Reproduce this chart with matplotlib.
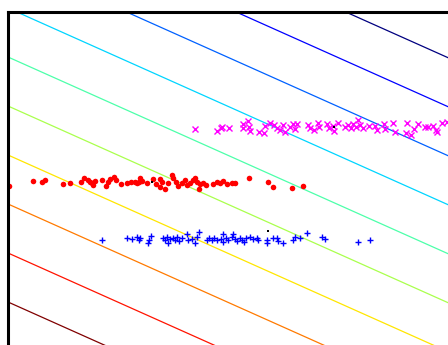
import numpy as np
import matplotlib
matplotlib.use("Agg")
import matplotlib.pyplot as plt

# class 1 (magenta x)
mag_x = [18.7, 20.9, 21.3, 21.4, 22.1, 23.5, 23.5, 24.0, 24.1, 24.2, 25.1, 25.6, 25.7, 26.2, 26.6,
         26.9, 27.2, 27.5, 27.7, 28.2, 28.5, 28.7, 28.9, 30.0, 30.2, 30.6, 31.0, 31.1, 31.9, 32.1,
         32.5, 32.6, 33.0, 33.7, 34.0, 34.3, 34.5, 34.8, 35.0, 35.2, 35.5, 36.1, 36.7, 36.9, 37.6,
         37.7, 38.5, 38.7, 39.9, 39.8, 40.3, 40.6, 41.0, 41.7, 42.0, 42.5, 42.8, 42.9, 43.4, 43.9]
mag_y = [21.6, 21.4, 21.7, 21.8, 21.7, 22.1, 21.7, 22.4, 21.8, 21.4, 21.3, 21.2, 21.9, 22.2, 22.0,
         21.7, 21.5, 22.0, 21.3, 21.8, 22.1, 21.6, 22.1, 22.0, 21.7, 21.5, 22.2, 21.8, 22.1, 21.7,
         21.9, 21.4, 22.2, 21.8, 22.0, 21.7, 22.1, 21.8, 22.5, 22.0, 21.7, 21.9, 21.9, 21.5, 22.1,
         21.6, 22.2, 21.3, 22.2, 21.2, 21.0, 21.6, 22.1, 21.8, 21.8, 21.9, 21.5, 21.3, 22.2, 22.3]

# class 2 (red dots)
red_x = [0.1, 2.5, 3.4, 3.7, 5.5, 6.2, 7.3, 7.6, 8.0, 8.2, 8.4, 8.5, 8.7, 9.4, 9.8, 10.0, 10.2,
         10.6, 10.8, 11.3, 11.9, 12.3, 12.7, 12.9, 13.1, 13.2, 13.4, 13.9, 14.5, 14.8, 15.2, 15.4,
         15.2, 15.7, 16.0, 16.4, 16.5, 16.8, 17.0, 17.4, 17.7, 17.9, 18.2, 18.5, 18.7, 18.9, 19.1,
         19.2, 19.5, 19.8, 20.5, 20.9, 21.2, 21.5, 21.9, 22.4, 22.7, 24.1, 26.0, 26.5, 28.4, 29.5]
red_y = [15.9, 16.4, 16.3, 16.5, 16.1, 16.2, 16.3, 16.7, 16.5, 16.3, 16.2, 16.0, 16.4, 16.5, 15.9,
         16.3, 16.6, 16.8, 16.5, 16.1, 16.2, 16.3, 16.3, 16.2, 16.3, 16.7, 16.4, 16.2, 16.6, 16.1,
         16.6, 16.3, 15.8, 15.6, 16.2, 17.0, 16.7, 16.3, 15.9, 16.2, 16.5, 16.0, 16.2, 16.5, 16.7,
         16.3, 15.6, 16.1, 16.2, 16.0, 16.1, 16.3, 16.2, 16.4, 16.1, 16.2, 16.2, 16.7, 16.3, 15.8,
         15.7, 15.9]

# class 3 (blue +)
blue_x = [9.4, 11.9, 12.4, 12.9, 13.1, 13.2, 14.1, 14.3, 14.0, 15.5, 15.7, 15.9, 16.0, 16.2, 16.5,
          16.7, 16.9, 17.1, 17.4, 17.9, 18.0, 18.4, 18.7, 18.9, 19.1, 19.9, 20.1, 20.4, 20.6, 20.9,
          21.3, 21.5, 21.5, 21.8, 22.0, 22.4, 22.5, 22.7, 22.9, 23.2, 23.4, 23.6, 23.8, 24.2, 24.5,
          24.9, 25.0, 25.9, 25.9, 26.5, 26.9, 27.0, 27.5, 28.5, 28.7, 29.2, 29.9, 31.4, 31.7, 35.0,
          36.2]
blue_y = [10.5, 10.7, 10.6, 10.8, 10.5, 10.7, 10.5, 10.9, 10.2, 10.7, 10.5, 10.8, 10.2, 10.6, 10.7,
          10.5, 10.8, 10.4, 10.7, 11.1, 10.5, 10.6, 10.2, 10.8, 11.3, 10.5, 10.7, 10.5, 10.7, 10.5,
          10.6, 11.1, 10.3, 10.7, 10.5, 10.8, 11.1, 10.6, 10.4, 10.7, 10.5, 10.3, 10.7, 10.8, 10.6,
          10.7, 10.5, 10.5, 10.2, 10.7, 10.7, 10.4, 10.2, 10.5, 10.8, 10.7, 11.2, 10.8, 10.6, 10.3,
          10.5]

# black marks inside each cloud
mark_x = [32.6, 14.4, 26.0]
mark_y = [21.8, 16.3, 11.4]

# contour of the linear score y + slope*x
slope = 0.447
levels = [4.3, 9.2, 14.1, 19.0, 23.9, 28.8, 33.7, 38.6, 43.5, 48.4]

fig = plt.figure(figsize=(4.48, 3.45), dpi=100)
ax = fig.add_axes([8 / 448, 0, 440 / 448, 333 / 345])

xx, yy = np.meshgrid(np.linspace(-1, 46, 300), np.linspace(-1, 35, 300))
ax.contour(xx, yy, yy + slope * xx, levels=levels, cmap='jet_r', linewidths=0.9)

ax.plot(mag_x, mag_y, 'x', color='magenta', ms=4, mew=1.0)
ax.plot(red_x, red_y, 'o', color='red', ms=4, mew=0)
ax.plot(blue_x, blue_y, '+', color='blue', ms=5, mew=1.0)
ax.plot(mark_x, mark_y, 's', color='black', ms=1.6, mew=0)

ax.set_xlim(0, 44)
ax.set_ylim(0, 33.3)
ax.set_xticks([])
ax.set_yticks([])
for side in ['right', 'bottom']:
    ax.spines[side].set_visible(False)
for side in ['left', 'top']:
    ax.spines[side].set_linewidth(2.2)

fig.savefig('out.png', dpi=100)
